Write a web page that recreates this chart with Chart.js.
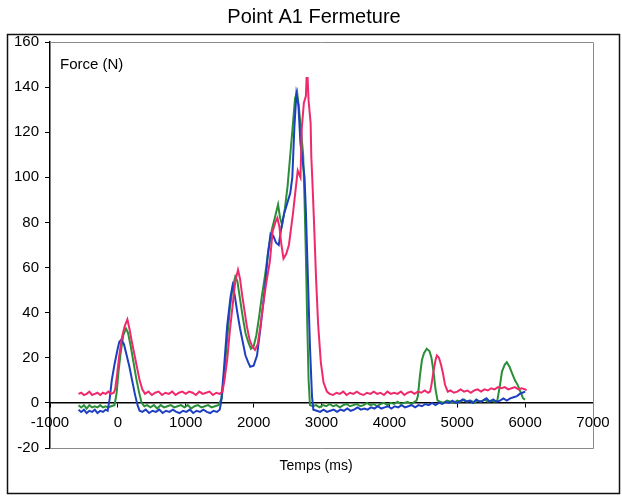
<!DOCTYPE html>
<html><head><meta charset="utf-8">
<script src="https://cdn.jsdelivr.net/npm/chart.js@4/dist/chart.umd.min.js"></script>
<style>html,body{margin:0;padding:0;background:#fff;}#wrap{width:622px;height:497px;position:relative}</style>
</head><body><div id="wrap"><canvas id="c" width="622" height="497"></canvas></div>
<script>
const chartTitle = 'Point A1 Fermeture';
const yAxisLabel = 'Force (N)';
const xAxisLabel = 'Temps (ms)';
const xRange = [-1000, 7000, 1000];
const yRange = [-20, 160, 20];

const pinkData = [[-580,4],[-540,4.5],[-500,3.5],[-460,4],[-420,5],[-380,3.5],[-340,4],[-300,4.5],[-260,3.5],[-220,4.5],[-180,4],[-140,5],[-100,4],[-60,4.5],[-40,6],[-10,13],[20,21],[60,29],[100,34],[140,37],[170,33],[200,28],[240,22],[280,16],[320,10],[360,6],[400,4],[450,5],[500,3.5],[550,4.5],[600,5],[650,3.5],[700,4.5],[750,4],[800,5],[850,3.5],[900,4.5],[950,5],[1000,4],[1050,5],[1100,4.5],[1150,3.5],[1200,5],[1250,4],[1300,4.5],[1350,5],[1400,3.5],[1450,4.5],[1500,4],[1540,5],[1570,10],[1610,19],[1650,32],[1690,43],[1730,54],[1770,59],[1800,55],[1830,48],[1870,40],[1900,34],[1940,28],[1980,25],[2020,23.5],[2060,26],[2100,34],[2130,41],[2180,52],[2240,63],[2280,76],[2320,80],[2350,82],[2380,78],[2410,70],[2440,64],[2480,66],[2520,70],[2550,77],[2580,84],[2620,95],[2650,103],[2690,100],[2710,122],[2740,133],[2770,136],[2780,144],[2795,144],[2810,134],[2840,124],[2850,109],[2865,99],[2890,80],[2920,55],[2950,35],[2990,18],[3030,9],[3080,5],[3120,4],[3170,3.5],[3220,4.5],[3270,4],[3320,5],[3370,3.5],[3420,4.5],[3470,4],[3520,5],[3570,4],[3620,3.5],[3670,4.5],[3720,4],[3770,5],[3820,4],[3870,4.5],[3920,3.5],[3970,5],[4020,4],[4070,4.5],[4120,4],[4170,5],[4220,3.5],[4270,4.5],[4320,5],[4370,4],[4420,5],[4470,4.5],[4520,5.5],[4570,4.5],[4600,5],[4620,8],[4650,14],[4680,19],[4700,21],[4730,20],[4760,17],[4790,13],[4820,8],[4860,5],[4900,5.5],[4950,4.5],[5000,5],[5050,6],[5100,5],[5150,5.5],[5200,4.5],[5250,5.5],[5300,6],[5350,5],[5400,6],[5450,5.5],[5500,6.5],[5550,6],[5600,7],[5650,6.5],[5700,7],[5750,6],[5800,6.5],[5850,7],[5900,6],[5950,6.5],[6000,6],[6020,5.5]];

const greenData = [[-580,-1],[-540,-2],[-500,-1],[-460,-2.5],[-420,-1],[-380,-2],[-340,-1.5],[-300,-2],[-260,-1],[-220,-2],[-180,-1.5],[-140,-2],[-100,-1.5],[-50,-1],[-20,4],[10,14],[40,22],[80,30],[120,33],[150,31],[190,25],[230,18],[270,11],[310,5],[350,0],[390,-1.5],[430,-1],[480,-2],[530,-1],[580,-2.5],[630,-1],[680,-2],[730,-1.5],[780,-1],[830,-2],[880,-1.5],[930,-1],[980,-2],[1030,-1],[1080,-2.5],[1130,-1.5],[1180,-1],[1230,-2],[1280,-1.5],[1330,-1],[1380,-2],[1430,-1.5],[1480,-1],[1530,2],[1570,14],[1610,28],[1650,42],[1690,51],[1730,56],[1760,54],[1800,46],[1840,38],[1880,31],[1920,27],[1960,24],[2000,25],[2040,30],[2080,38],[2120,47],[2170,57],[2220,68],[2270,77],[2320,83],[2360,88],[2390,82],[2420,79],[2460,86],[2500,96],[2540,110],[2580,124],[2610,135],[2640,138],[2670,130],[2700,120],[2730,110],[2750,90],[2770,65],[2790,35],[2810,10],[2830,-1],[2870,-1.5],[2920,-1],[2970,-2],[3020,-1],[3070,-1.5],[3120,-0.5],[3170,-1.5],[3220,-1],[3270,-2],[3320,-1],[3370,-0.5],[3420,-1.5],[3470,-1],[3520,-0.5],[3570,-1.5],[3620,-1],[3670,0],[3720,-1],[3770,-0.5],[3820,-1.5],[3870,-0.5],[3920,0],[3970,-1],[4020,0],[4070,-0.5],[4120,0.5],[4170,-0.5],[4220,0],[4270,0.5],[4320,-0.5],[4370,0.5],[4400,1],[4420,3],[4450,12],[4480,19],[4510,22],[4550,24],[4590,23],[4620,20],[4650,14],[4680,6],[4710,1],[4750,0.5],[4800,0],[4850,1],[4900,0.5],[4950,0],[5000,1],[5050,0.5],[5100,1.5],[5150,0.5],[5200,1],[5250,0],[5300,1],[5350,0.5],[5400,1.5],[5450,0.5],[5500,1],[5550,0.5],[5590,1],[5630,8],[5660,14],[5700,17],[5730,18],[5770,16],[5810,13],[5850,10],[5890,8],[5930,5],[5970,2],[6000,1.5]];

const blueData = [[-580,-3],[-540,-4],[-500,-3],[-460,-4.5],[-420,-3.5],[-380,-4],[-340,-3],[-300,-4.5],[-260,-3.5],[-220,-4],[-180,-3],[-150,-3.5],[-120,2],[-90,10],[-50,17],[-10,23],[20,27],[50,28],[90,26],[130,21],[170,16],[210,10],[250,4],[290,-1],[320,-3.5],[360,-4],[410,-3],[460,-4.5],[510,-3.5],[560,-4],[610,-3],[660,-4.5],[710,-3.5],[760,-4],[810,-3],[860,-4],[910,-4.5],[960,-3.5],[1010,-4],[1060,-3],[1110,-4.5],[1160,-3.5],[1210,-4],[1260,-3],[1310,-4],[1360,-4.5],[1410,-3.5],[1460,-4],[1500,-3],[1520,0],[1560,14],[1610,34],[1660,47],[1690,52],[1720,48],[1760,40],[1800,33],[1840,27],[1880,21],[1920,18],[1950,16],[2000,16.5],[2050,21],[2100,33],[2170,52],[2210,66],[2250,75],[2290,74],[2330,71],[2370,70],[2410,78],[2450,84],[2490,88],[2540,93],[2570,100],[2600,122],[2630,137],[2660,132],[2690,115],[2720,108],[2750,100],[2770,85],[2800,55],[2830,25],[2860,3],[2880,-3],[2930,-3.5],[2980,-4],[3030,-3],[3080,-4],[3130,-3.5],[3180,-3],[3230,-4],[3280,-3],[3330,-3.5],[3380,-2.5],[3430,-3.5],[3480,-3],[3530,-2],[3580,-3],[3630,-2.5],[3680,-3],[3730,-2],[3780,-2.5],[3830,-1.5],[3880,-2.5],[3930,-2],[3980,-1.5],[4030,-2.5],[4080,-1.5],[4130,-2],[4180,-1],[4230,-2],[4280,-1.5],[4330,-1],[4380,-2],[4430,-1],[4480,-1.5],[4530,-0.5],[4580,-1],[4630,0],[4680,-1],[4730,0],[4780,-0.5],[4830,0.5],[4880,0],[4930,1],[4980,0],[5030,0.5],[5080,1.5],[5130,0.5],[5180,1],[5230,0],[5280,1.5],[5330,0.5],[5380,1],[5430,2],[5480,0.5],[5530,1.5],[5580,0.5],[5630,1],[5680,2],[5730,1],[5780,2],[5830,2.5],[5880,3],[5920,4],[5960,4.5],[6000,5]];

const FONT = "'Liberation Sans', Arial, sans-serif";
const toXY = arr => arr.map(p => ({x: p[0], y: p[1]}));

const framePlugin = {
  id: 'frame',
  beforeDatasetsDraw(chart) {
    const {ctx, chartArea: a} = chart;
    ctx.save();
    ctx.strokeStyle = '#8a8a8a';
    ctx.lineWidth = 1;
    ctx.beginPath();
    ctx.moveTo(a.left, a.top + 0.5); ctx.lineTo(a.right + 0.5, a.top + 0.5);
    ctx.lineTo(a.right + 0.5, a.bottom + 0.5); ctx.lineTo(a.left, a.bottom + 0.5);
    ctx.stroke();
    ctx.restore();
  },
  afterDraw(chart) {
    const {ctx, chartArea: a} = chart;
    ctx.save();
    ctx.strokeStyle = '#111';
    ctx.lineWidth = 1.5;
    ctx.strokeRect(7.5, 34.5, 612, 459);
    ctx.fillStyle = '#000';
    ctx.textBaseline = 'middle';
    ctx.textAlign = 'left';
    ctx.font = '15px ' + FONT;
    ctx.fillText(yAxisLabel, a.left + 10, a.top + 23);
    ctx.textAlign = 'center';
    ctx.font = '20px ' + FONT;
    ctx.fillText(chartTitle, 314, 17);
    ctx.font = '14px ' + FONT;
    ctx.fillText(xAxisLabel, 316, 466);
    ctx.restore();
  }
};

new Chart(document.getElementById('c'), {
  type: 'line',
  data: {
    datasets: [
      {label: 'Essai 3', data: toXY(pinkData), borderColor: '#ef2a6c', borderWidth: 2, pointRadius: 0, tension: 0, fill: false},
      {label: 'Essai 2', data: toXY(blueData), borderColor: '#1d3fc0', borderWidth: 2, pointRadius: 0, tension: 0, fill: false},
      {label: 'Essai 1', data: toXY(greenData), borderColor: '#2a8f38', borderWidth: 2, pointRadius: 0, tension: 0, fill: false}
    ]
  },
  options: {
    responsive: false,
    animation: false,
    devicePixelRatio: 1,
    layout: {padding: {left: 0, right: 29, top: 42, bottom: 49}},
    plugins: {
      legend: {display: false},
      tooltip: {enabled: false},
      title: {display: false},
      subtitle: {display: false}
    },
    scales: {
      x: {
        type: 'linear',
        position: {y: 0},
        min: xRange[0], max: xRange[1],
        ticks: {stepSize: xRange[2], color: '#000', font: {family: FONT, size: 15}, padding: 7, maxRotation: 0, autoSkip: false, callback: v => String(v)},
        grid: {display: true, drawOnChartArea: false, drawTicks: true, tickLength: 4, color: '#000'},
        border: {display: true, color: '#000', width: 1.5}
      },
      y: {
        type: 'linear',
        position: 'left',
        min: yRange[0], max: yRange[1],
        afterFit(scale) { scale.width = 50; },
        ticks: {stepSize: yRange[2], color: '#000', font: {family: FONT, size: 15}, padding: 6, callback: v => String(v)},
        grid: {display: true, drawOnChartArea: false, drawTicks: true, tickLength: 5, color: '#000'},
        border: {display: true, color: '#000', width: 1.5}
      }
    }
  },
  plugins: [framePlugin]
});
</script>
</body></html>
